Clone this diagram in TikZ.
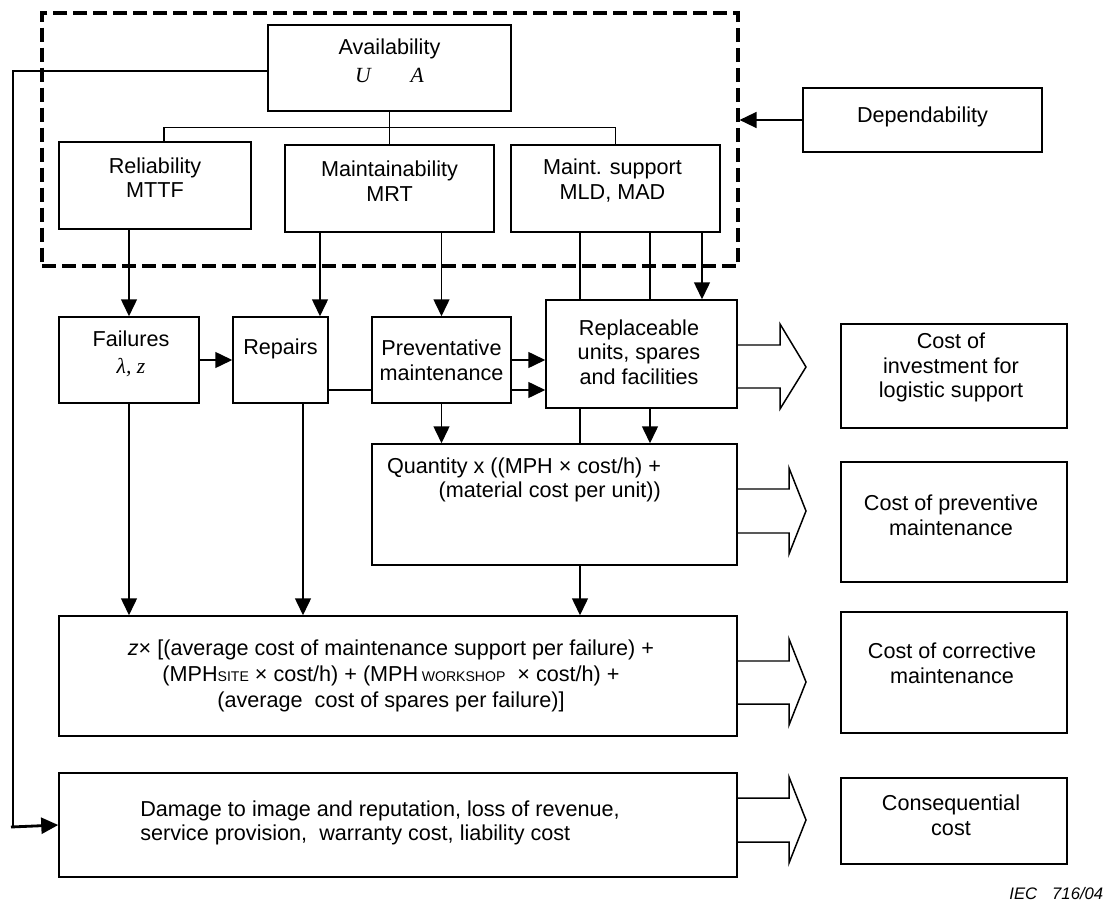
\documentclass[tikz,border=0pt]{standalone}
\usepackage{fontspec}
\setmainfont{Liberation Sans}
\newfontfamily\tms{Liberation Serif}
\usetikzlibrary{arrows.meta}
\newlength\unitpx
\setlength\unitpx{0.02cm}
\tikzset{
  box/.style 2 args={draw, fill=white, inner sep=0pt, minimum width=#1\unitpx, minimum height=#2\unitpx},
  tx/.style={align=center, inner sep=0pt},
  bigarr/.style={draw, line join=miter},
}
\newcommand{\smallcap}[1]{{\fontsize{8}{9}\selectfont #1}}

\begin{document}
\begin{tikzpicture}[x=0.02cm, y=-0.02cm, line width=0.85pt,
    >={Triangle[length=0.34cm,width=0.32cm]},
    font=\fontsize{12.3}{14}\selectfont]
  \useasboundingbox (0,0) rectangle (1106,902);

  % dependability frame
  \node[box={696}{253}, fill=none, line width=1.8pt, dash pattern=on 0.28cm off 0.12cm] (core) at (390,139.5) {};
  \node[box={243}{86}, label={[tx,name=avail-t,yshift=7\unitpx]center:{Availability\\[2pt]{\tms\itshape U\hspace{0.8cm}A}}}] (avail) at (389.5,68) {};
  \node[box={192}{87}, label={[tx,name=rel-t,yshift=8\unitpx]center:{Reliability\\MTTF}}] (rel) at (155,185.5) {};
  \node[box={209}{87}, label={[tx,name=main-t,yshift=7.5\unitpx]center:{Maintainability\\MRT}}] (main) at (389.5,188.5) {};
  \node[box={209}{87}, label={[tx,name=ms-t,yshift=8\unitpx,xshift=-3\unitpx]center:{Maint. support\\MLD, MAD}}] (ms) at (615.5,188.5) {};
  \node[box={239}{64}, label={[tx,name=dep-t,yshift=3\unitpx]center:{Dependability}}] (dep) at (922.5,120) {};

  % middle row
  \node[box={140}{86}, label={[tx,name=fail-t,yshift=6\unitpx,xshift=2\unitpx]center:{Failures\\[1pt]{\tms\itshape λ, z}}}] (fail) at (129,360) {};
  \node[box={95}{86}, label={[tx,name=repa-t,yshift=11\unitpx]center:{Repairs}}] (repa) at (280.5,360) {};
  \node[box={139}{86}, label={[tx,name=prev-t]center:{Preventative\\maintenance}}] (prev) at (441.5,360) {};
  \node[box={191}{108}, label={[tx,name=rpl-t,xshift=-2.5\unitpx,yshift=2\unitpx]center:{Replaceable\\units, spares\\and facilities}}] (rpl) at (641.5,354) {};
  \node[box={365}{121}, label={[tx,align=right,name=qty-t,xshift=-30.5\unitpx,yshift=24.5\unitpx]center:{Quantity x ((MPH × cost/h) +\\(material cost per unit))}}] (qty) at (554.5,504.5) {};

  % cost formulas
  \node[box={678}{120}, label={[tx,name=zb-t,xshift=-7\unitpx]center:{{\itshape z}× [(average cost of maintenance support per failure) +\\[1pt](MPH\smallcap{SITE} × cost/h) + (MPH\,\smallcap{WORKSHOP}\ \ × cost/h) +\\[1pt](average\ \ cost of spares per failure)]}}] (zb) at (398,676) {};
  \node[box={678}{104}, label={[tx,align=left,name=dmg-t,xshift=-18\unitpx,yshift=2\unitpx]center:{Damage to image and reputation, loss of revenue,\\service provision,\ \ warranty cost, liability cost}}] (dmg) at (398,825) {};

  % cost boxes
  \node[box={226}{104}, label={[tx,name=cinv-t,xshift=-3\unitpx,yshift=8.5\unitpx]center:{Cost of\\investment for\\logistic support}}] (cinv) at (954,376) {};
  \node[box={226}{120}, label={[tx,name=cprev-t,xshift=-3\unitpx,yshift=6.5\unitpx]center:{Cost of preventive\\maintenance}}] (cprev) at (954,522) {};
  \node[box={226}{121}, label={[tx,name=ccorr-t,xshift=-2\unitpx,yshift=9.5\unitpx]center:{Cost of corrective\\maintenance}}] (ccorr) at (954,672.5) {};
  \node[box={226}{86}, label={[tx,name=ccons-t,xshift=-3\unitpx,yshift=5.5\unitpx]center:{Consequential\\cost}}] (ccons) at (954,821) {};

  \node[anchor=east, inner sep=0pt, font=\itshape\fontsize{9.5}{11}\selectfont] (iec) at (1104,894) {IEC\hspace{0.3cm}716/04};

  % tree below availability
  \draw (avail.south) -- (main.north);
  \draw ([xshift=9\unitpx]rel.north) -- ++(0,-14) -| (ms.north);
  \draw[->] (dep.west) -- (core.east |- dep.west);

  % feedback to consequential damage
  \coordinate (fb) at (13,827);
  \draw ([yshift=-3\unitpx]avail.west) -| (fb);
  \draw[->, line width=1.6pt] ([xshift=-2\unitpx]fb) -- (dmg.west);

  % downward links
  \draw[->] (fail.north |- rel.south) -- (fail.north);
  \draw[->] (320,0 |- main.south) -- (320,0 |- repa.north);
  \draw[->] (prev.north |- main.south) -- (prev.north);
  \draw (580,0 |- ms.south) -- (580,0 |- rpl.north);
  \draw (650,0 |- ms.south) -- (650,0 |- rpl.north);
  \draw[->] (702,0 |- ms.south) -- (702,0 |- rpl.north);
  \draw (580,0 |- rpl.south) -- (580,0 |- qty.north);
  \draw[->] (650,0 |- rpl.south) -- (650,0 |- qty.north);
  \draw[->] (prev.south) -- (prev.south |- qty.north);
  \draw[->] (fail.south) -- (fail.south |- zb.north);
  \draw[->] (303,0 |- repa.south) -- (303,0 |- zb.north);
  \draw[->] (580,0 |- qty.south) -- (580,0 |- zb.north);

  % sideways links
  \draw[->] (fail.east) -- (repa.west);
  \draw ([yshift=-30\unitpx]repa.east) -- (prev.west |- 0,390);
  \draw[->] (prev.east |- 0,390) -- (rpl.west |- 0,390);
  \draw[->] (prev.east) -- (rpl.west |- prev.east);

  % block arrows to the costs
  \foreach \src/\yt/\yb/\hx/\ht/\hb/\yc in {rpl/345/388/780/324/409/367, qty/489/533/789/468/554/511,
      zb/661/704/789/639/725/682, dmg/798/842/789/777/863/820}
    \draw[bigarr] (\src.east |- 0,\yt) -- (\hx,\yt) -- (\hx,\ht) -- (806,\yc) -- (\hx,\hb) -- (\hx,\yb) -- (\src.east |- 0,\yb);
\end{tikzpicture}
\end{document}
